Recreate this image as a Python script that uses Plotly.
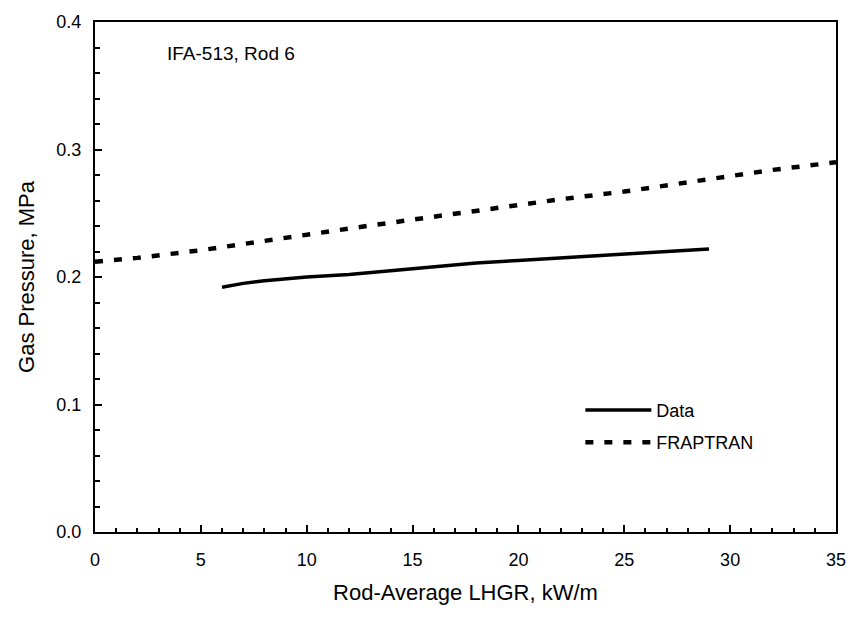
import plotly.graph_objects as go

data_x = [6, 7, 8, 10, 12, 14, 16, 18, 20, 22, 24, 26, 28, 29]
data_y = [0.192, 0.195, 0.197, 0.200, 0.202, 0.205, 0.208, 0.211, 0.213, 0.215, 0.217, 0.219, 0.221, 0.222]
frap_x = [0, 2, 5, 7, 10, 12, 15, 18, 20, 22, 25, 28, 30, 32, 35]
frap_y = [0.212, 0.215, 0.221, 0.226, 0.233, 0.238, 0.245, 0.252, 0.256, 0.261, 0.267, 0.274, 0.279, 0.284, 0.290]
x_ticks = [0, 5, 10, 15, 20, 25, 30, 35]
y_ticks = [0.0, 0.1, 0.2, 0.3, 0.4]

font = "Liberation Sans, Arial, sans-serif"
fig = go.Figure()
fig.add_trace(go.Scatter(x=data_x, y=data_y, mode="lines", name="Data", legendgroup="a",
                         line=dict(color="black", width=3.5)))
fig.add_trace(go.Scatter(x=frap_x, y=frap_y, mode="lines", name="FRAPTRAN", legendgroup="b",
                         line=dict(color="black", width=4.5, dash="8px,11px")))

axis_common = dict(showgrid=False, zeroline=False, showline=True, linecolor="black",
                   linewidth=2, mirror=True, ticks="inside", tickcolor="black",
                   tickwidth=2, ticklen=7, tickfont=dict(family=font, size=18, color="black"))
fig.update_xaxes(range=[0, 35], tickvals=x_ticks, ticktext=[str(v) for v in x_ticks],
                 ticklabelstandoff=10,
                 minor=dict(dtick=1, ticks="inside", ticklen=4, tickcolor="black", tickwidth=1.5),
                 title=dict(text="Rod-Average LHGR, kW/m", font=dict(family=font, size=22, color="black"), standoff=16),
                 **axis_common)
fig.update_yaxes(range=[0, 0.4], tickvals=y_ticks, ticktext=["%.1f" % v for v in y_ticks],
                 ticklabelstandoff=8,
                 minor=dict(dtick=0.02, ticks="inside", ticklen=5, tickcolor="black", tickwidth=1.5),
                 title=dict(text="Gas Pressure, MPa", font=dict(family=font, size=22, color="black"), standoff=16),
                 **axis_common)
fig.add_annotation(x=0.095, y=0.938, xref="paper", yref="paper", text="IFA-513, Rod 6",
                   showarrow=False, xanchor="left", yanchor="middle",
                   font=dict(family=font, size=19, color="black"))
fig.update_layout(width=858, height=631, plot_bgcolor="white", paper_bgcolor="white",
                  margin=dict(l=95, r=13, t=18, b=99),
                  legend=dict(x=0.655, y=0.275, xanchor="left", yanchor="top",
                              bgcolor="rgba(0,0,0,0)", font=dict(family=font, size=18, color="black"),
                              itemwidth=66, tracegroupgap=6),
                  showlegend=True)
fig.write_html("out.html")
